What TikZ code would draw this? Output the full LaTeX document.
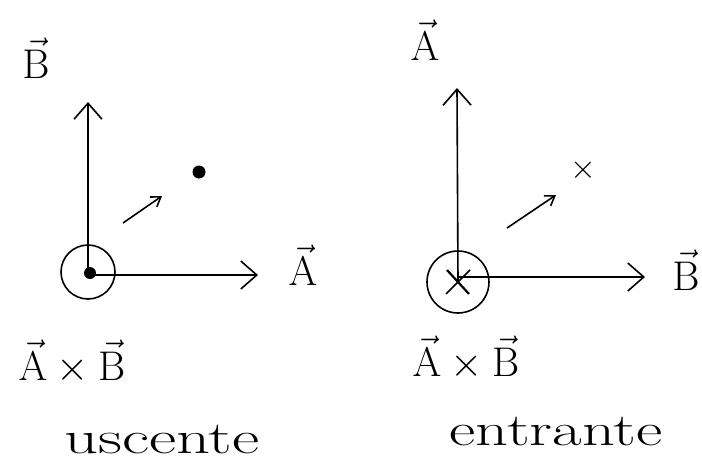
\documentclass[tikz,border=0pt]{standalone}
\usepackage{graphicx}
\usetikzlibrary{arrows.meta}
\newcommand{\bigmath}[1]{\scalebox{2}{$#1$}}
\begin{document}
\begin{tikzpicture}[x=1pt,y=-1pt,
  axis/.style={line width=1.6pt,-{Straight Barb[length=16pt,width=28pt,line width=1.6pt]}},
  small/.style={line width=1.6pt,-{Straight Barb[length=9pt,width=12pt,line width=1.6pt]}},
  lab/.style={inner sep=0pt,font=\fontsize{20}{24}\selectfont},
  word/.style={inner sep=0pt,font=\fontsize{46}{50}\selectfont},
  ring/.style={circle,draw,line width=1.6pt,inner sep=0pt},
  dotn/.style={circle,fill,inner sep=0pt}]
\useasboundingbox (0,0) rectangle (702,463);
% ---------- left: uscente ----------
\node[ring,minimum size=54pt] (O1) at (88,272) {};
\node[dotn,minimum size=12pt] (D1) at (90,273) {};
\coordinate (B1) at (88,102);
\coordinate (A1) at (258,275);
\draw[axis] (O1.center) -- (B1);
\draw[axis] (O1.center |- A1) -- (A1);
\node[lab] (lB1) at (36,58) {\bigmath{\vec{\mathrm{B}}}};
\node[lab] (lA1) at (303,265) {\bigmath{\vec{\mathrm{A}}}};
\coordinate (s1a) at (123,223);
\coordinate (s1b) at (162,196);
\draw[small] (s1a) -- (s1b);
\node[dotn,minimum size=13pt] (P1) at (199,172) {};
\node[lab] (AB1) at (72,362) {\bigmath{\vec{\mathrm{A}}\times\vec{\mathrm{B}}}};
\node[word] (w1) at (162,440) {\scalebox{1.45}[1]{uscente}};
% ---------- right: entrante ----------
\node[ring,minimum size=62pt] (O2) at (458,282) {};
\coordinate (A2) at (457,88);
\coordinate (B2) at (645,277);
\draw[axis] (O2.center) -- (A2);
\draw[axis] (O2.center |- B2) -- (B2);
\draw[line width=2.2pt] ([shift={(-11,-12)}]O2.center) -- ([shift={(11,12)}]O2.center);
\draw[line width=1.6pt] ([shift={(12,-12)}]O2.center) -- ([shift={(-12,12)}]O2.center);
\node[lab] (lA2) at (425,40) {\bigmath{\vec{\mathrm{A}}}};
\node[lab] (lB2) at (686,270) {\bigmath{\vec{\mathrm{B}}}};
\coordinate (s2a) at (507,228);
\coordinate (s2b) at (556,195);
\draw[small] (s2a) -- (s2b);
\node[lab] (P2) at (583,170) {\scalebox{1.6}{$\times$}};
\node[lab] (AB2) at (466,358) {\bigmath{\vec{\mathrm{A}}\times\vec{\mathrm{B}}}};
\node[word] (w2) at (556,432) {\scalebox{1.4}[1]{entrante}};
\end{tikzpicture}
\end{document}
